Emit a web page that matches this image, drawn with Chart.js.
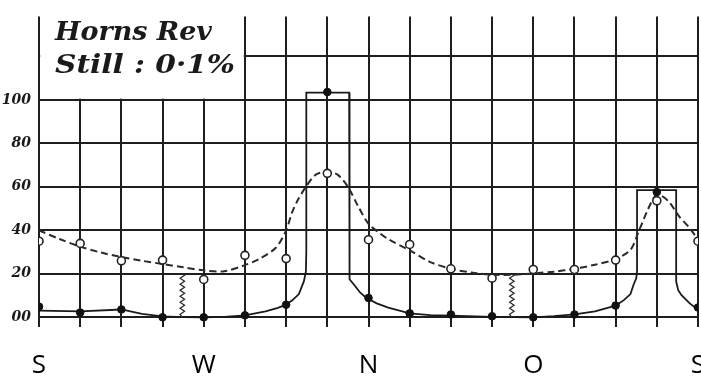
<!DOCTYPE html>
<html><head><meta charset="utf-8">
<script src="https://cdn.jsdelivr.net/npm/chart.js@4.4.0/dist/chart.umd.min.js"></script>
<style>html,body{margin:0;padding:0;background:#fff;}canvas{display:block;}</style>
</head><body>
<canvas id="c" width="701" height="383"></canvas>
<script>
// compass directions (German: O = Ost)
const categories = ['S','SSW','SW','WSW','W','WNW','NW','NNW','N','NNO','NO','ONO','O','OSO','SO','SSO','S'];
// filled dots (solid curve) and open circles (dashed curve), in %
const stormValues = [4.9,2.2,3.6,0,0,0.9,5.8,103.6,8.9,1.8,1.3,0.5,0,1.3,5.4,57.6,4.5];
const windValues  = [35,34,26,26.3,17.4,28.5,27,66.2,35.7,33.5,22.3,18,22,22,26.3,53.6,35];
// solid curve (x in direction steps)
const stormCurveX = [0,1,2,2.5,3,3.5,4,4.5,5,5.5,5.8,6,6.15,6.31,6.43,6.48,6.49,6.49,7.53,7.53,7.55,7.64,7.8,7.95,8.2,8.48,9,9.5,10,11,12,12.5,13,13.5,14,14.2,14.36,14.44,14.5,14.52,14.52,15.47,15.47,15.52,15.6,15.69,15.8,15.93,16];
const stormCurveY = [3.1,2.7,3.6,1.6,0.4,0.1,0,0.2,0.9,2.7,4.3,5.8,7.8,10.7,16.5,21,30,103.3,103.3,21,17.5,15.2,11.3,8.9,6.4,4.5,1.8,1.0,0.8,0.2,0,0.5,1.3,2.7,5.4,7.9,10.7,15.2,17.9,21,58.5,58.5,16.5,12.5,10.2,8.5,6.4,4.5,4.2];
// dashed curve
const windCurveX = [0,0.5,1,1.5,2,2.5,3,3.5,4,4.5,5,5.34,5.75,6,6.14,6.3,6.48,6.72,7,7.25,7.5,7.75,8,8.25,8.5,9,9.5,10,10.5,11,11.5,12,12.5,13,13.5,14,14.36,14.57,14.77,14.96,15.1,15.3,15.56,15.8,16];
const windCurveY = [40,36,32.5,29.8,27.7,26,24.5,23,21.6,21.2,24,26.8,32,40,48,54.5,60,65.6,67,65.6,60,51,43,39,35.7,30.8,25.4,22.3,20.6,19.6,19.6,20.2,21,22.3,24.2,26.8,31,40,49,55.8,56,53,46,41,35.7];
// calm markers (zig-zag) at these directions, from 0 up to this value
const calmX = [3.48, 11.48];
const calmTop = [20, 20];
const title = 'Horns Rev';
const subtitle = 'Still : 0·1%';

const toXY = (xs, ys) => xs.map((x, i) => ({x: x, y: ys[i]}));

const GRID = '#1e1e1e';
const overlay = {
  id: 'overlay',
  beforeDatasetsDraw(chart) {
    const {ctx, scales: {x, y}} = chart;
    const l = x.getPixelForValue(0) + 1.2, r = x.getPixelForValue(5) - 1.2, b = y.getPixelForValue(100) - 1.2;
    ctx.save();
    ctx.fillStyle = '#fff';
    ctx.fillRect(l, 0, r - l, b);
    ctx.fillStyle = '#1a1a1a';
    ctx.textBaseline = 'alphabetic';
    const fit = (txt, font, x0, base, w) => {
      ctx.font = font;
      const m = ctx.measureText(txt).width;
      ctx.save(); ctx.translate(x0, base); ctx.scale(w / m, 1); ctx.fillText(txt, 0, 0); ctx.restore();
    };
    fit(title, 'italic bold 26px "DejaVu Serif"', 55, 40, 157);
    fit(subtitle, 'italic bold 26px "DejaVu Serif"', 55, 73, 180);
    ctx.restore();
  },
  afterDatasetsDraw(chart) {
    const {ctx, scales: {x, y}} = chart;
    ctx.save();
    ctx.strokeStyle = '#2a2a2a';
    ctx.lineWidth = 1.3;
    calmX.forEach((cx, i) => {
      const px = x.getPixelForValue(cx), top = y.getPixelForValue(calmTop[i]), bot = y.getPixelForValue(0);
      ctx.beginPath();
      ctx.moveTo(px, top);
      let k = 0;
      for (let yy = top + 1.5; yy < bot; yy += 3) { ctx.lineTo(px + (k % 2 ? -2.2 : 2.2), yy); k++; }
      ctx.lineTo(px, bot);
      ctx.stroke();
    });
    ctx.fillStyle = '#000';
    ctx.font = '26px "Open Sans"';
    ctx.textAlign = 'center';
    ctx.textBaseline = 'middle';
    categories.forEach((c, i) => { if (c.length === 1) ctx.fillText(c, x.getPixelForValue(i), 366); });
    ctx.restore();
  }
};

new Chart(document.getElementById('c'), {
  type: 'line',
  data: {datasets: [
    {data: toXY(stormCurveX, stormCurveY), borderColor: '#1a1a1a', borderWidth: 1.8, pointRadius: 0, tension: 0, order: 4},
    {data: toXY(windCurveX, windCurveY), borderColor: '#2a2a2a', borderWidth: 2, borderDash: [7, 4], pointRadius: 0, tension: 0.3, order: 3},
    {data: categories.map((c, i) => ({x: i, y: stormValues[i]})), showLine: false, pointRadius: 3.8, pointBackgroundColor: '#111', pointBorderColor: '#111', order: 2},
    {data: categories.map((c, i) => ({x: i, y: windValues[i]})), showLine: false, pointRadius: 4, pointBackgroundColor: '#fff', pointBorderColor: '#222', pointBorderWidth: 1.6, order: 1}
  ]},
  options: {
    responsive: false, animation: false, events: [],
    layout: {autoPadding: false, padding: {top: 7, right: 1, left: 0, bottom: 0}},
    plugins: {legend: {display: false}, tooltip: {enabled: false}},
    scales: {
      x: {type: 'linear', min: 0, max: 16,
          afterFit(s) { s.height = 56; },
          ticks: {stepSize: 1, autoSkip: false, callback: () => ''},
          grid: {color: GRID, lineWidth: 2, drawTicks: false},
          border: {display: false}},
      y: {type: 'linear', min: -4.46, max: 138.4,
          afterFit(s) { s.width = 39; },
          ticks: {stepSize: 20, includeBounds: false, padding: 8,
                  callback: v => v === 0 ? '00' : (v > 0 && v <= 100 ? String(v) : ''),
                  font: {family: 'DejaVu Serif', size: 14, style: 'italic', weight: 'bold'}, color: '#1a1a1a'},
          grid: {color: GRID, lineWidth: 2, drawTicks: false},
          border: {display: false}}
    }
  },
  plugins: [overlay]
});
</script>
</body></html>
